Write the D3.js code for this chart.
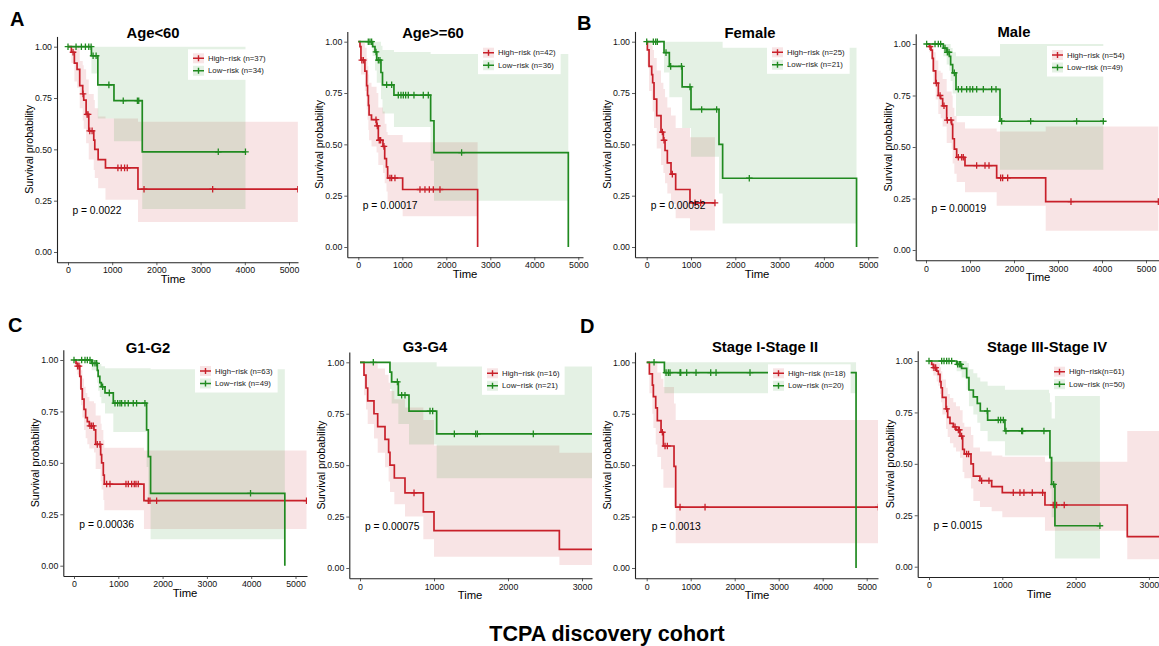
<!DOCTYPE html>
<html><head><meta charset="utf-8">
<script src="https://cdn.jsdelivr.net/npm/d3@7"></script>
<style>
body{margin:0;background:#fff}
svg{display:block}
text{font-family:"Liberation Sans", Arial, sans-serif}
</style>
</head><body>
<svg id="chart" width="1159" height="646"></svg>
<script>
// ---------------- DATA ----------------
const panelTitles = ["Age<60","Age>=60","Female","Male","G1-G2","G3-G4","Stage I-Stage II","Stage III-Stage IV"];
const panelLetters = ["A","B","C","D"];
const pValueLabels = ["p = 0.0022","p = 0.00017","p = 0.00052","p = 0.00019","p = 0.00036","p = 0.00075","p = 0.0013","p = 0.0015"];
const highLabels = ["High\u2212risk (n=37)","High\u2212risk (n=42)","High\u2212risk (n=25)","High\u2212risk (n=54)","High\u2212risk (n=63)","High\u2212risk (n=16)","High\u2212risk (n=18)","High\u2212risk(n=61)"];
const lowLabels = ["Low\u2212risk (n=34)","Low\u2212risk (n=36)","Low\u2212risk (n=21)","Low\u2212risk (n=49)","Low\u2212risk (n=49)","Low\u2212risk (n=21)","Low\u2212risk (n=20)","Low\u2212risk (n=50)"];
const xTicksLong = [0,1000,2000,3000,4000,5000];
const xTicksShort = [0,1000,2000,3000];
const yTicks = [0,0.25,0.5,0.75,1];
const yTickLabels = ["0.00","0.25","0.50","0.75","1.00"];
const footTitle = "TCPA discovery cohort";

// steps: [time, survival, lower CI, upper CI]
const ageLt60High = [[76,0.973,0.92,1],[144,0.92,0.83,1],[205,0.89,0.80,1],[265,0.81,0.70,0.93],[333,0.77,0.64,0.91],[356,0.74,0.60,0.89],[410,0.67,0.53,0.84],[470,0.59,0.45,0.77],[583,0.545,0.40,0.74],[606,0.50,0.36,0.70],[682,0.45,0.31,0.66],[848,0.41,0.255,0.65],[1583,0.306,0.146,0.635]];
const ageLt60HighCens = [114,340,432,455,492,545,1129,1205,1280,1341,1720,3273,5200];
const ageLt60Low = [[530,0.956,0.87,1],[675,0.814,0.65,1],[1040,0.737,0.54,1],[1680,0.488,0.21,1]];
const ageLt60LowCens = [0,182,303,394,470,523,568,636,925,1250,1570,1600,3400,4015];

const ageGe60High = [[38,0.976,0.93,1],[60,0.91,0.84,1],[150,0.857,0.76,0.97],[190,0.786,0.67,0.92],[210,0.738,0.62,0.88],[230,0.69,0.57,0.84],[245,0.643,0.52,0.80],[300,0.62,0.49,0.78],[415,0.59,0.46,0.75],[455,0.52,0.40,0.68],[560,0.49,0.36,0.66],[600,0.43,0.31,0.60],[640,0.39,0.27,0.56],[667,0.336,0.22,0.545],[1008,0.28,0.15,0.51],[2712,0,0,0]];
const ageGe60HighCens = [80,114,402,432,477,508,583,720,758,833,1402,1515,1614,1705,1856];
const ageGe60Low = [[326,0.976,0.93,1],[379,0.95,0.86,1],[420,0.91,0.80,1],[515,0.85,0.72,0.98],[550,0.79,0.65,0.96],[810,0.74,0.585,0.95],[1644,0.615,0.42,0.94],[1720,0.46,0.225,0.94],[4773,0,0,0]];
const ageGe60LowCens = [227,265,303,402,455,492,644,758,909,970,1023,1076,1136,1265,1477,1591,2348];

const femaleHigh = [[15,0.96,0.88,1],[53,0.88,0.76,1],[113,0.84,0.72,0.98],[135,0.80,0.66,0.96],[165,0.72,0.58,0.92],[226,0.64,0.48,0.86],[323,0.56,0.40,0.80],[376,0.52,0.36,0.77],[414,0.47,0.31,0.73],[466,0.41,0.26,0.68],[549,0.355,0.21,0.64],[654,0.28,0.14,0.58],[977,0.215,0.08,0.535]];
const femaleHighCens = [353,391,579,1090,1218,1541];
const femaleLow = [[391,0.947,0.85,1],[511,0.88,0.73,1],[800,0.78,0.58,1],[1000,0.67,0.44,1],[1632,0.50,0.26,1],[1714,0.335,0.115,0.97],[4737,0,0,0]];
const femaleLowCens = [0,150,203,240,436,541,785,977,1241,1579,2316];

const maleHigh = [[76,0.987,0.96,1],[114,0.97,0.93,1],[144,0.93,0.87,1],[167,0.87,0.80,0.96],[220,0.81,0.73,0.92],[280,0.75,0.66,0.87],[333,0.735,0.64,0.86],[379,0.70,0.60,0.83],[470,0.63,0.52,0.77],[583,0.61,0.49,0.75],[606,0.54,0.42,0.69],[644,0.49,0.37,0.65],[697,0.45,0.33,0.62],[886,0.41,0.28,0.59],[1606,0.35,0.215,0.575],[2720,0.235,0.094,0.60]];
const maleHighCens = [91,235,320,409,485,568,735,811,848,1151,1341,1432,1697,1742,1856,3295,5280];
const maleLow = [[394,0.98,0.94,1],[470,0.96,0.90,1],[530,0.94,0.87,1],[560,0.90,0.82,0.98],[606,0.86,0.76,0.96],[682,0.78,0.65,0.94],[1682,0.625,0.39,1]];
const maleLowCens = [15,205,280,333,432,485,523,644,735,811,924,1000,1061,1152,1303,1492,1591,1720,2379,3424,4030];

const g12High = [[45,0.984,0.95,1],[75,0.97,0.93,1],[130,0.92,0.86,0.99],[158,0.86,0.78,0.95],[188,0.81,0.72,0.91],[226,0.76,0.66,0.87],[263,0.72,0.62,0.84],[301,0.70,0.59,0.82],[346,0.68,0.57,0.80],[451,0.66,0.55,0.79],[489,0.59,0.47,0.73],[602,0.54,0.41,0.69],[624,0.50,0.37,0.66],[662,0.44,0.32,0.61],[684,0.397,0.27,0.574],[1579,0.316,0.178,0.56]];
const g12HighCens = [83,113,361,398,436,526,586,737,812,1173,1226,1301,1361,1399,1451,1677,1714,1865,5248];
const g12Low = [[398,0.984,0.95,1],[526,0.95,0.89,1],[545,0.92,0.85,0.99],[583,0.89,0.82,0.98],[617,0.87,0.79,0.97],[700,0.84,0.74,0.96],[887,0.79,0.65,0.96],[1639,0.66,0.48,0.96],[1677,0.53,0.33,0.96],[1729,0.352,0.128,0.955],[4759,0,0,0]];
const g12LowCens = [0,173,248,301,361,421,474,511,647,797,925,985,1038,1075,1150,1225,1338,1413,1601,3985];

const g34High = [[54,0.9375,0.84,1],[81,0.875,0.77,1],[104,0.8125,0.70,1],[189,0.75,0.63,1],[239,0.6875,0.56,0.97],[338,0.625,0.49,0.94],[387,0.5625,0.42,0.90],[405,0.50,0.37,0.86],[464,0.4375,0.31,0.82],[608,0.365,0.25,0.78],[856,0.273,0.14,0.72],[1000,0.182,0.055,0.595],[2694,0.091,0.015,0.56]];
const g34HighCens = [730];
const g34Low = [[405,0.952,0.87,1],[428,0.905,0.80,1],[518,0.84,0.70,1],[662,0.763,0.60,1],[1036,0.652,0.436,0.98]];
const g34LowCens = [180,505,563,608,946,982,1275,1563,1586,2342];

const st12High = [[61,0.944,0.85,1],[129,0.889,0.75,1],[152,0.833,0.68,1],[205,0.778,0.60,1],[242,0.716,0.54,0.95],[326,0.66,0.48,0.92],[379,0.593,0.39,0.88],[621,0.494,0.30,0.80],[659,0.296,0.12,0.72]];
const st12HighCens = [356,417,470,758,1326,5265];
const st12Low = [[402,0.95,0.85,1],[4758,0,0,0]];
const st12LowCens = [167,440,492,530,758,773,909,1121,1455,1576,2348];

const st34High = [[36,0.984,0.95,1],[59,0.968,0.93,1],[105,0.951,0.90,1],[127,0.935,0.88,0.99],[150,0.90,0.84,0.97],[164,0.87,0.80,0.95],[182,0.823,0.74,0.91],[232,0.767,0.67,0.87],[255,0.726,0.63,0.84],[286,0.697,0.60,0.82],[332,0.68,0.58,0.80],[368,0.665,0.56,0.78],[423,0.635,0.53,0.76],[459,0.57,0.46,0.70],[482,0.548,0.43,0.68],[573,0.50,0.38,0.64],[605,0.44,0.32,0.58],[695,0.418,0.29,0.56],[855,0.389,0.27,0.54],[1000,0.36,0.24,0.535],[1582,0.30,0.175,0.51],[2705,0.146,0.036,0.66]];
const st34HighCens = [68,91,241,355,400,414,445,514,540,718,818,1150,1241,1295,1409,1550,1695,1741,1845];
const st34Low = [[377,0.984,0.95,1],[445,0.964,0.92,1],[514,0.919,0.86,0.99],[545,0.859,0.78,0.96],[605,0.826,0.74,0.94],[659,0.794,0.70,0.92],[700,0.757,0.66,0.90],[800,0.713,0.61,0.88],[1036,0.66,0.54,0.86],[1650,0.53,0.38,0.80],[1673,0.40,0.24,0.72],[1718,0.199,0.04,0.83]];
const st34LowCens = [0,173,205,241,273,309,391,414,432,795,945,977,1014,1050,1264,1277,1568,1700,2332];

// last follow-up time of each curve
const highEnd = [5200,2712,1541,5280,5248,3250,5265,3250];
const lowEnd = [4015,4773,4737,4030,4759,3250,4758,2332];

const highSteps = [ageLt60High,ageGe60High,femaleHigh,maleHigh,g12High,g34High,st12High,st34High];
const highCens = [ageLt60HighCens,ageGe60HighCens,femaleHighCens,maleHighCens,g12HighCens,g34HighCens,st12HighCens,st34HighCens];
const lowSteps = [ageLt60Low,ageGe60Low,femaleLow,maleLow,g12Low,g34Low,st12Low,st34Low];
const lowCens = [ageLt60LowCens,ageGe60LowCens,femaleLowCens,maleLowCens,g12LowCens,g34LowCens,st12LowCens,st34LowCens];

// ---------------- LAYOUT ----------------
const layout = [
 {px0:68,   k:44.2, py1:46.7,  py0:252,   left:57,    right:298,  title:[153,38],  legend:[193,58.3], timeX:173,  pX:100, ticks:xTicksLong},
 {px0:358.3,k:44.0, py1:41.7,  py0:247,   left:347.3, right:583,  title:[433,38],  legend:[483,52.7], timeX:465,  pX:100, ticks:xTicksLong},
 {px0:646.7,k:44.3, py1:41.7,  py0:247,   left:635,   right:878,  title:[750,38],  legend:[772,52.3], timeX:757,  pX:90,  ticks:xTicksLong},
 {px0:926,  k:44.0, py1:44,    py0:250,   left:915.7, right:1159, title:[1014,37], legend:[1052,55],  timeX:1038, pX:125, ticks:xTicksLong},
 {px0:74,   k:44.3, py1:360,   py0:565.7, left:63.3,  right:307,  title:[148,353], legend:[200,371],  timeX:185,  pX:120, ticks:xTicksLong},
 {px0:360,  k:74.0, py1:362.3, py0:568,   left:349.3, right:592,  title:[425,352], legend:[487,373.3],timeX:470,  pX:66,  ticks:xTicksShort},
 {px0:646.7,k:44.0, py1:362.3, py0:568,   left:635,   right:878,  title:[765,352], legend:[773,373.3],timeX:757,  pX:114, ticks:xTicksLong},
 {px0:929,  k:73.3, py1:361,   py0:566.7, left:917.7, right:1159, title:[1047,352],legend:[1054,371.7],timeX:1039,pX:60,  ticks:xTicksShort}
];
const letterPos = [[10,26],[577,30],[8,332],[580,333]];
const RED = "#C8202A", GREEN = "#208A20", BAND_OP = 0.12;

// ---------------- DRAW ----------------
const svg = d3.select("#chart");
const defs = svg.append("defs");

function survAt(steps, t) {
  let s = 1;
  for (const st of steps) { if (st[0] <= t) s = st[1]; else break; }
  return s;
}
function linePts(steps, end) {
  const pts = [[0,1]];
  steps.forEach(s => pts.push([s[0], s[1]]));
  const last = pts[pts.length-1];
  if (last[1] > 0) pts.push([end, last[1]]);
  return pts;
}
function bandPts(steps, end) {
  const pts = [[0,1,1,1]];
  for (const s of steps) {
    if (s[1] > 0) pts.push(s); else { end = s[0]; break; }
  }
  const last = pts[pts.length-1];
  pts.push([end, last[1], last[2], last[3]]);
  return pts;
}

layout.forEach((L, i) => {
  const base = d3.scaleLinear().domain([0,1000]).range([L.px0, L.px0 + L.k]);
  const x = d3.scaleLinear().domain([base.invert(L.left), base.invert(L.right)]).range([L.left, L.right]);
  const ybase = d3.scaleLinear().domain([0,1]).range([L.py0, L.py1]);
  const y = d3.scaleLinear().domain([-0.05,1.05]).range([ybase(-0.05), ybase(1.05)]);
  const top = y(1.05), bot = y(-0.05);

  const cid = "clip" + i;
  defs.append("clipPath").attr("id", cid).append("rect")
    .attr("x", L.left).attr("y", top - 4).attr("width", L.right - L.left).attr("height", bot - top + 4);

  const g = svg.append("g");
  const plot = g.append("g").attr("clip-path", `url(#${cid})`);

  const area = d3.area().curve(d3.curveStepAfter)
    .x(d => x(d[0])).y0(d => y(d[2])).y1(d => y(d[3]));
  const line = d3.line().curve(d3.curveStepAfter).x(d => x(d[0])).y(d => y(d[1]));

  const groups = [
    {steps: highSteps[i], end: highEnd[i], cens: highCens[i], color: RED},
    {steps: lowSteps[i], end: lowEnd[i], cens: lowCens[i], color: GREEN}
  ];
  groups.forEach(G => {
    plot.append("path").datum(bandPts(G.steps, G.end))
      .attr("d", area).attr("fill", G.color).attr("fill-opacity", BAND_OP).attr("stroke", "none");
  });
  groups.forEach(G => {
    plot.append("path").datum(linePts(G.steps, G.end))
      .attr("d", line).attr("fill", "none").attr("stroke", G.color).attr("stroke-width", 1.7);
    plot.selectAll(null).data(G.cens).enter().append("path")
      .attr("d", c => {
        const cx = x(c), cy = y(survAt(G.steps, c));
        return `M${cx-3.3},${cy}H${cx+3.3}M${cx},${cy-3.3}V${cy+3.3}`;
      })
      .attr("stroke", G.color).attr("stroke-width", 1.3).attr("fill", "none");
  });

  // axes
  const xAxis = d3.axisBottom(x).tickValues(L.ticks).tickFormat(d3.format("d"))
    .tickSizeInner(3).tickSizeOuter(0).tickPadding(2);
  const gx = g.append("g").attr("transform", `translate(0,${bot})`).call(xAxis);
  const yAxis = d3.axisLeft(y).tickValues(yTicks).tickFormat((d, j) => yTickLabels[j])
    .tickSizeInner(3).tickSizeOuter(0).tickPadding(2);
  const gy = g.append("g").attr("transform", `translate(${L.left},0)`).call(yAxis);
  [gx, gy].forEach(a => {
    a.select(".domain").attr("stroke", "#222").attr("stroke-width", 1.1);
    a.selectAll(".tick line").attr("stroke", "#333").attr("stroke-width", 0.8);
    a.selectAll(".tick text").attr("fill", "#111").style("font-size", "8.8px");
  });

  // axis titles
  g.append("text").attr("x", L.timeX).attr("y", bot + 21).attr("text-anchor", "middle")
    .style("font-size", "11.3px").attr("fill", "#000").text("Time");
  g.append("text").attr("transform", `translate(${L.left - 28},${(top + bot) / 2}) rotate(-90)`)
    .attr("text-anchor", "middle").attr("dominant-baseline", "central")
    .style("font-size", "10.6px").attr("fill", "#000").text("Survival probability");

  // title
  g.append("text").attr("x", L.title[0]).attr("y", L.title[1]).attr("text-anchor", "middle")
    .style("font-size", "14.8px").style("font-weight", "bold").attr("fill", "#000").text(panelTitles[i]);

  // p value
  g.append("text").attr("x", x(L.pX)).attr("y", y(0.2)).attr("dominant-baseline", "central")
    .style("font-size", "10.3px").attr("fill", "#000").text(pValueLabels[i]);

  // legend
  const lg = g.append("g");
  const bg = lg.append("rect").attr("fill", "#fff");
  const kx = L.legend[0], ky = L.legend[1], rowH = 12.5;
  const texts = [];
  [[highLabels[i], RED], [lowLabels[i], GREEN]].forEach((d, j) => {
    const cy = ky + j * rowH;
    lg.append("rect").attr("x", kx).attr("y", cy - 5).attr("width", 11).attr("height", 10)
      .attr("fill", d[1]).attr("fill-opacity", BAND_OP);
    lg.append("path").attr("d", `M${kx},${cy}H${kx+11}M${kx+5.5},${cy-3}V${cy+3}M${kx+2.5},${cy}H${kx+8.5}`)
      .attr("stroke", d[1]).attr("stroke-width", 1.4).attr("fill", "none");
    texts.push(lg.append("text").attr("x", kx + 15).attr("y", cy).attr("dominant-baseline", "central")
      .style("font-size", "7.8px").attr("fill", "#222").text(d[0]));
  });
  const tw = d3.max(texts, t => t.node().getComputedTextLength());
  bg.attr("x", kx - 5).attr("y", ky - 9).attr("width", tw + 25).attr("height", rowH + 18);
});

// panel letters
svg.selectAll(null).data(panelLetters).enter().append("text")
  .attr("x", (d, j) => letterPos[j][0]).attr("y", (d, j) => letterPos[j][1])
  .style("font-size", "20px").style("font-weight", "bold").attr("fill", "#000").text(d => d);

svg.append("text").attr("x", 607).attr("y", 641).attr("text-anchor", "middle")
  .style("font-size", "21.5px").style("font-weight", "bold").attr("fill", "#000").text(footTitle);
</script>
</body></html>
